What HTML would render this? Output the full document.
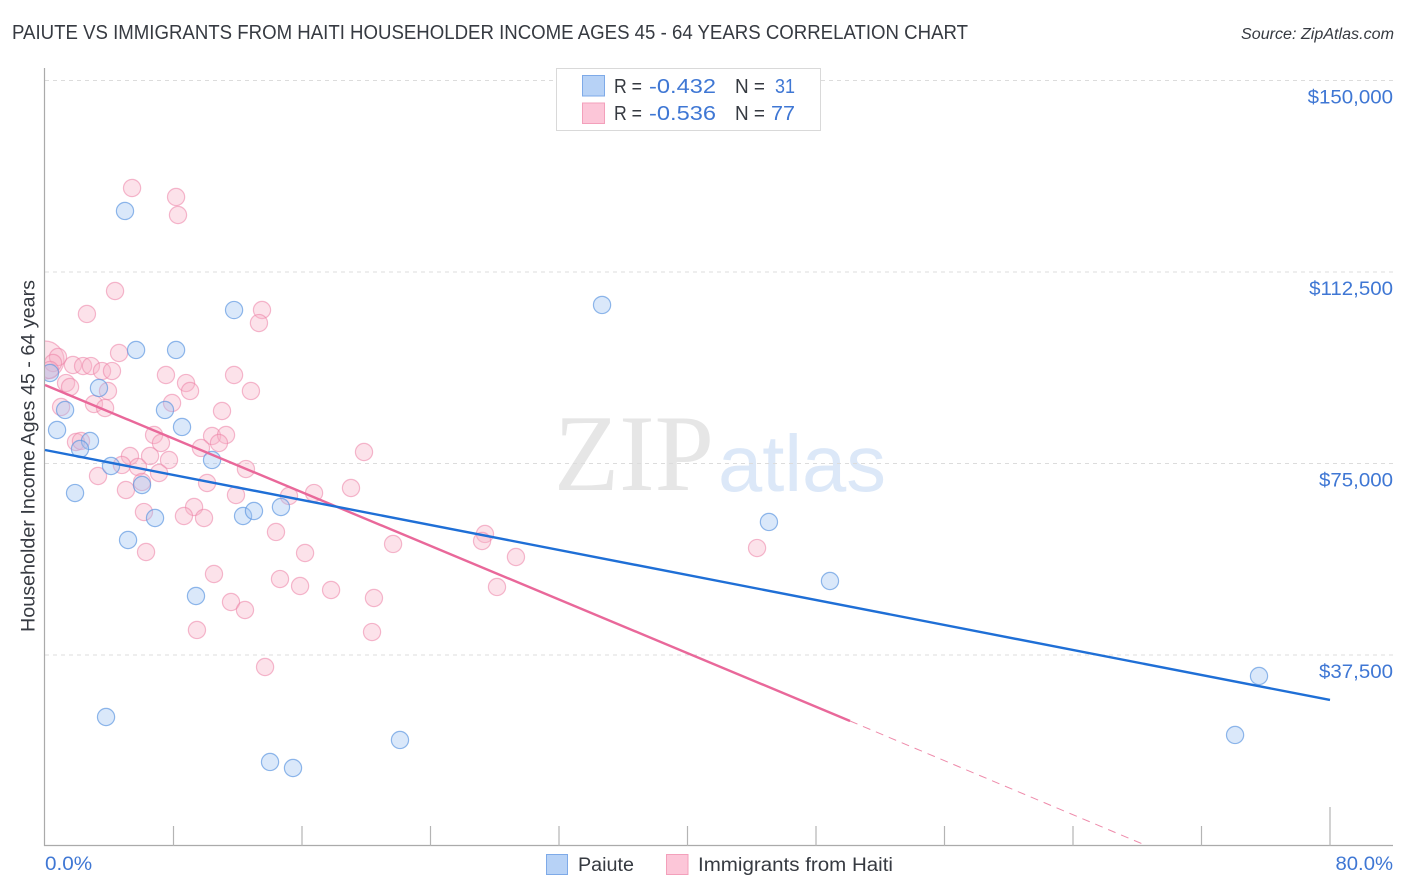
<!DOCTYPE html>
<html lang="en">
<head>
<meta charset="utf-8">
<title>Paiute vs Immigrants from Haiti Householder Income Correlation Chart</title>
<style>
html,body{margin:0;padding:0;background:#fff;}
body{width:1406px;height:892px;overflow:hidden;}
svg{display:block;font-family:"Liberation Sans",sans-serif;}
</style>
</head>
<body>
<svg id="chart" width="1406" height="892" viewBox="0 0 1406 892" xmlns="http://www.w3.org/2000/svg">
  <defs>
    <clipPath id="plot-clip"><rect x="45" y="60" width="1350" height="786"/></clipPath>
  </defs>
  <rect x="0" y="0" width="1406" height="892" fill="#ffffff"/>
  <text x="12" y="39" font-size="20" fill="#363a41" textLength="956" lengthAdjust="spacingAndGlyphs">PAIUTE VS IMMIGRANTS FROM HAITI HOUSEHOLDER INCOME AGES 45 - 64 YEARS CORRELATION CHART</text>
  <text x="1241" y="39" font-size="15.5" font-style="italic" fill="#363a41" textLength="153" lengthAdjust="spacingAndGlyphs">Source: ZipAtlas.com</text>

  <g>
    <text x="554" y="490" font-family="'Liberation Serif',serif" font-size="109" fill="#e6e6e6" textLength="160" lengthAdjust="spacingAndGlyphs">ZIP</text>
    <text x="718" y="491" font-size="80" fill="#dce8f8" textLength="168" lengthAdjust="spacingAndGlyphs">atlas</text>
  </g>

  <g id="grid"></g>
  <g id="axes"></g>
  <g id="y-labels"></g>
  <g id="x-labels"></g>
  <g id="points-pink" clip-path="url(#plot-clip)"></g>
  <g id="points-blue" clip-path="url(#plot-clip)"></g>
  <g id="trends"></g>

  <text transform="translate(34.5,456) rotate(-90)" text-anchor="middle" font-size="19" fill="#363a41" textLength="352" lengthAdjust="spacingAndGlyphs">Householder Income Ages 45 - 64 years</text>

  <g>
    <rect x="556.5" y="68.5" width="264" height="62" fill="#ffffff" stroke="#d9d9d9" stroke-width="1"/>
    <rect x="582.5" y="75.5" width="22" height="20.5" fill="#b7d2f6" stroke="#7eaae8" stroke-width="1"/>
    <rect x="582.5" y="103" width="22" height="20.5" fill="#fcc6d8" stroke="#f3a0bb" stroke-width="1"/>
    <g font-size="20.5">
      <text x="614" y="93" fill="#363a41" textLength="28" lengthAdjust="spacingAndGlyphs">R =</text>
      <text x="649" y="93" fill="#3f77d4" textLength="67" lengthAdjust="spacingAndGlyphs">-0.432</text>
      <text x="735" y="93" fill="#363a41" textLength="30" lengthAdjust="spacingAndGlyphs">N =</text>
      <text x="775" y="93" fill="#3f77d4" textLength="20" lengthAdjust="spacingAndGlyphs">31</text>
      <text x="614" y="120" fill="#363a41" textLength="28" lengthAdjust="spacingAndGlyphs">R =</text>
      <text x="649" y="120" fill="#3f77d4" textLength="67" lengthAdjust="spacingAndGlyphs">-0.536</text>
      <text x="735" y="120" fill="#363a41" textLength="30" lengthAdjust="spacingAndGlyphs">N =</text>
      <text x="771" y="120" fill="#3f77d4" textLength="24" lengthAdjust="spacingAndGlyphs">77</text>
    </g>
  </g>

  <g>
    <rect x="546.5" y="854.5" width="21" height="20" fill="#b7d2f6" stroke="#7eaae8" stroke-width="1"/>
    <text x="578" y="871" font-size="19" fill="#363a41" textLength="56" lengthAdjust="spacingAndGlyphs">Paiute</text>
    <rect x="666.5" y="854.5" width="21.5" height="20" fill="#fcc6d8" stroke="#f3a0bb" stroke-width="1"/>
    <text x="698" y="871" font-size="19" fill="#363a41" textLength="195" lengthAdjust="spacingAndGlyphs">Immigrants from Haiti</text>
  </g>
</svg>
<script>
const paiuteX = [4.98,11.77,34.68,5.67,8.16,3.36,0.31,1.25,7.47,8.53,0.75,2.80,2.18,10.40,4.11,6.04,1.87,6.85,12.33,13.01,14.69,5.17,45.07,48.87,9.40,75.58,74.09,3.80,22.10,14.01,15.44];
const paiuteY = [124450,105050,106050,97230,97230,89790,92720,85480,85480,82150,81560,79410,77840,75690,74510,70790,69220,64330,64720,65700,66480,60020,63550,51990,49055,33390,21840,25360,20860,16550,15370];
const haitiX = [5.42,8.16,8.28,4.36,2.61,13.51,13.32,4.61,0,0.81,0.50,0.31,1.74,2.37,2.86,3.55,4.17,7.53,11.77,1.31,1.56,3.92,8.78,9.03,12.82,7.91,11.02,1.00,3.05,3.74,6.79,7.22,10.40,11.27,10.83,9.71,1.93,2.24,5.29,6.54,7.72,12.51,4.79,5.79,7.10,3.30,6.04,5.04,10.09,11.89,15.19,6.16,9.28,8.65,9.90,14.38,16.75,19.05,16.19,21.67,6.29,10.52,14.63,15.88,17.81,20.48,11.58,12.45,9.46,20.36,13.70,19.86,27.39,27.21,29.32,28.14,44.33];
const haitiY = [128950,127190,123660,108780,104280,105060,102510,96640,95270,95860,94680,93310,94290,94090,94090,93110,93110,92330,92330,90760,89980,89200,90760,89200,89200,86850,85280,86065,86650,85870,80580,79015,80385,80580,79015,78040,79210,79410,76470,76470,75690,73920,74710,74315,73140,72550,71380,69810,71180,68830,68640,65500,66480,64720,64330,61590,69220,70200,57475,59240,57670,53360,52380,51010,50230,48660,47880,46310,42400,42000,35150,77250,61200,59825,56690,50820,58450];
const haitiHeavyIndex = 8;
const paiuteTrendX = [0,80];
const paiuteTrendY = [77645,28690];
const haitiTrendX = [0,50.12];
const haitiTrendY = [90370,24580];
const haitiDashX = [50.12,68.48];
const haitiDashY = [24580,295];
const yTicks = [150000,112500,75000,37500];
const yTickLabels = ["$150,000","$112,500","$75,000","$37,500"];
const xTicks = [0,8,16,24,32,40,48,56,64,72,80];
const xEndLabels = ["0.0%","80.0%"];

const NS = "http://www.w3.org/2000/svg";
function sx(v){ return 45 + v * (1285 / 80); }
function sy(v){ return 80.5 + (150000 - v) * (191.5 / 37500); }
function make(tag, parentId, attrs){
  const el = document.createElementNS(NS, tag);
  for (const k in attrs) el.setAttribute(k, attrs[k]);
  document.getElementById(parentId).appendChild(el);
  return el;
}
function fitWidth(el, scale){
  el.setAttribute("textLength", (el.getComputedTextLength() * scale).toFixed(1));
  el.setAttribute("lengthAdjust", "spacingAndGlyphs");
}

yTicks.forEach(function(t, i){
  const line = make("line", "grid", {x1:45, x2:1393, y1:sy(t), y2:sy(t), stroke:"#dcdcdc", "stroke-width":1, "stroke-dasharray":"4 4"});
  
  
  const label = make("text", "y-labels", {x:1393, y:sy(t)+23, "text-anchor":"end", "font-size":19.5, fill:"#3f77d4"});
  
  
  label.textContent = yTickLabels[i];
  fitWidth(label, 1.05);
});

const yAxis = make("line", "axes", {x1:44.5, x2:44.5, y1:68, y2:846, stroke:"#aaaaaa", "stroke-width":1.2});


const xAxis = make("line", "axes", {x1:44, x2:1393, y1:845.5, y2:845.5, stroke:"#aaaaaa", "stroke-width":1.2});



xTicks.forEach(function(t, i){
  if (i === 0) return;
  const last = i === xTicks.length - 1;
  const tick = make("line", "axes", {x1:sx(t), x2:sx(t), y1:last ? 807 : 826, y2:846, stroke:"#b4b4b4", "stroke-width":1.2});
  
  
});

const xLabelStart = make("text", "x-labels", {x:45, y:870, "font-size":19.5, fill:"#3f77d4"});


xLabelStart.textContent = xEndLabels[0];
fitWidth(xLabelStart, 1.06);
const xLabelEnd = make("text", "x-labels", {x:1393, y:870, "text-anchor":"end", "font-size":19.5, fill:"#3f77d4"});


xLabelEnd.textContent = xEndLabels[1];
fitWidth(xLabelEnd, 1.04);

haitiX.forEach(function(x, i){
  const c = make("circle", "points-pink", {cx:sx(x), cy:sy(haitiY[i]), r:8.6, fill:"#f7b3c9", "fill-opacity":0.38, stroke:"#ec82a5", "stroke-opacity":0.55, "stroke-width":1.2});
  if (i === haitiHeavyIndex) c.setAttribute("r", 19);
  
  
});
paiuteX.forEach(function(x, i){
  const c = make("circle", "points-blue", {cx:sx(x), cy:sy(paiuteY[i]), r:8.6, fill:"#9ec3f2", "fill-opacity":0.38, stroke:"#5d96e0", "stroke-opacity":0.68, "stroke-width":1.2});
  
  
});

const haitiTrend = make("line", "trends", {x1:sx(haitiTrendX[0]), y1:sy(haitiTrendY[0]), x2:sx(haitiTrendX[1]), y2:sy(haitiTrendY[1]), stroke:"#e9689a", "stroke-width":2.4});


const haitiDash = make("line", "trends", {x1:sx(haitiDashX[0]), y1:sy(haitiDashY[0]), x2:sx(haitiDashX[1]), y2:sy(haitiDashY[1]), stroke:"#ee8aaa", "stroke-width":1, "stroke-dasharray":"8 6"});


const paiuteTrend = make("line", "trends", {x1:sx(paiuteTrendX[0]), y1:sy(paiuteTrendY[0]), x2:sx(paiuteTrendX[1]), y2:sy(paiuteTrendY[1]), stroke:"#1f6fd6", "stroke-width":2.4});


</script>
</body>
</html>
